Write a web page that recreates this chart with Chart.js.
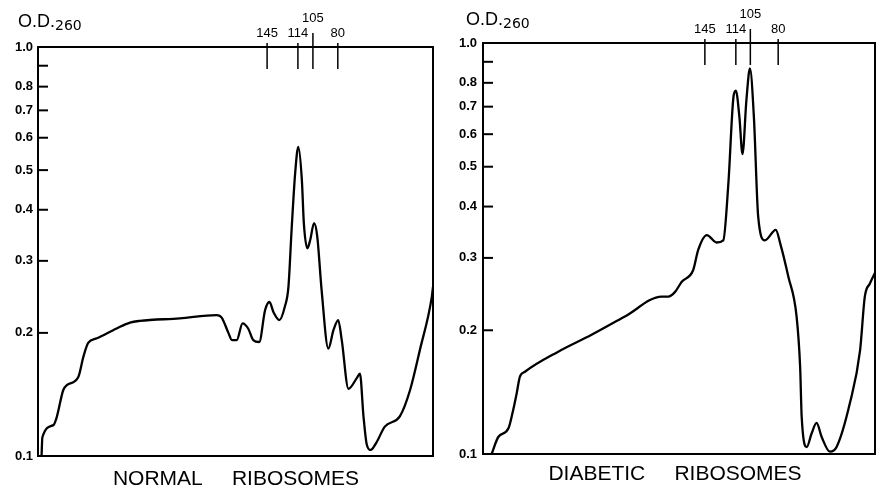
<!DOCTYPE html>
<html><head><meta charset="utf-8">
<script src="https://cdn.jsdelivr.net/npm/chart.js@4/dist/chart.umd.min.js"></script>
<style>
body{margin:0;background:#fff;width:877px;height:488px;overflow:hidden;position:relative}
canvas{position:absolute;top:0}
#c1{left:0}
#c2{left:440px}
</style></head><body>
<canvas id="c1" width="440" height="488"></canvas>
<canvas id="c2" width="437" height="488"></canvas>
<script>
// ---- data (x = position along gradient, % of panel width; y = O.D.260) ----
const normalX = [0.9,1.1,3.9,4.7,6.4,7.3,10.2,11.5,12.7,14.9,19.9,23.3,25.8,35.9,45.2,46.5,48.2,49.1,50.3,51.8,53.2,54.5,56.0,57.5,58.6,59.6,61.1,62.5,63.4,64.2,65.1,65.9,66.8,67.3,68.2,68.9,69.9,70.7,71.8,73.5,74.8,76.0,76.9,78.6,80.7,81.5,82.4,83.2,84.2,85.7,87.8,91.6,94.2,96.7,99.7,100];
const normalOD = [0.100,0.111,0.119,0.124,0.145,0.149,0.156,0.175,0.189,0.194,0.205,0.212,0.214,0.217,0.221,0.218,0.200,0.192,0.192,0.211,0.205,0.192,0.190,0.2275,0.238,0.225,0.215,0.232,0.259,0.357,0.491,0.570,0.473,0.371,0.322,0.337,0.371,0.344,0.2545,0.183,0.203,0.215,0.192,0.146,0.155,0.159,0.125,0.107,0.1035,0.108,0.118,0.125,0.145,0.182,0.245,0.259];
const diabeticX = [2.2,3.9,6.5,7.7,8.6,9.4,10.7,19.2,27.7,36.2,45.6,47.3,49.0,50.7,53.6,54.9,57.1,59.6,61.3,62.6,63.9,64.5,65.4,66.2,67.2,68.1,69.1,70.2,71.9,74.7,75.8,77.9,80.0,80.9,81.3,82.6,83.8,85.1,86.4,88.5,90.2,93.6,96.2,97.4,98.7,100];
const diabeticOD = [0.100,0.110,0.1155,0.128,0.1406,0.154,0.1585,0.1774,0.195,0.216,0.2415,0.2415,0.248,0.2625,0.280,0.314,0.341,0.327,0.331,0.456,0.740,0.766,0.662,0.537,0.727,0.867,0.662,0.378,0.331,0.351,0.326,0.270,0.216,0.163,0.123,0.104,0.112,0.119,0.110,0.1013,0.104,0.133,0.179,0.2415,0.260,0.276];
const yTickValues = [0.1,0.2,0.3,0.4,0.5,0.6,0.7,0.8,0.9,1.0];
const yTickLabels = ['0.1','0.2','0.3','0.4','0.5','0.6','0.7','0.8','','1.0'];
const markerLabels = ['145','114','105','80'];
const normalMarkerX = [58.0,65.8,69.6,75.9];
const diabeticMarkerX = [56.6,64.5,68.2,75.3];
const panelTitles = ['NORMAL     RIBOSOMES','DIABETIC     RIBOSOMES'];
const yAxisTitle = ['O.D.','260'];

const decor = {
  id:'decor',
  afterDraw(chart, args, o){
    const ctx = chart.ctx, a = chart.chartArea;
    const xs = chart.scales.x, ys = chart.scales.y;
    ctx.save();
    ctx.strokeStyle = '#000'; ctx.fillStyle = '#000';
    // frame
    ctx.lineWidth = 2;
    ctx.strokeRect(a.left, a.top, a.right - a.left, a.bottom - a.top);
    // inward y ticks
    ys.ticks.forEach(t => {
      const y = ys.getPixelForValue(t.value);
      ctx.beginPath(); ctx.moveTo(a.left, y); ctx.lineTo(a.left + 10, y); ctx.stroke();
    });
    // sedimentation markers
    ctx.lineWidth = 1.5;
    ctx.font = '13px "Liberation Sans", sans-serif';
    ctx.textAlign = 'center'; ctx.textBaseline = 'alphabetic';
    o.markerX.forEach((v, i) => {
      const x = xs.getPixelForValue(v);
      const raised = markerLabels[i] === '105';
      ctx.beginPath();
      ctx.moveTo(x, a.top - (raised ? 14 : 4));
      ctx.lineTo(x, a.top + 22);
      ctx.stroke();
      ctx.fillText(markerLabels[i], x, a.top - (raised ? 25 : 10));
    });
    // axis title
    ctx.textAlign = 'left';
    ctx.font = '18px "Liberation Sans", sans-serif';
    ctx.fillText(yAxisTitle[0], o.odX, o.odY);
    const w = ctx.measureText(yAxisTitle[0]).width;
    ctx.font = '14px "DejaVu Sans", sans-serif';
    ctx.fillText(yAxisTitle[1], o.odX + w, o.odY + 3);
    // panel title
    ctx.textAlign = 'center';
    ctx.font = '21px "Liberation Sans", sans-serif';
    ctx.fillText(o.title, o.titleX, o.titleY);
    ctx.restore();
  }
};

function makeChart(id, xs, ys, markers, title, pad, axisW, labelPad, odPos, titlePos){
  return new Chart(document.getElementById(id), {
    type:'line',
    data:{datasets:[{
      data: xs.map((x,i)=>({x, y: ys[i]})),
      borderColor:'#000', borderWidth:2.3, pointRadius:0,
      cubicInterpolationMode:'monotone', fill:false
    }]},
    options:{
      responsive:false, animation:false,
      layout:{padding:pad},
      plugins:{legend:{display:false}, tooltip:{enabled:false},
        decor:{markerX:markers, title, odX:odPos[0], odY:odPos[1], titleX:titlePos[0], titleY:titlePos[1]}},
      scales:{
        x:{type:'linear', min:0, max:100, display:false},
        y:{type:'logarithmic', min:0.1, max:1.0,
           grid:{display:false, drawTicks:false}, border:{display:false},
           afterBuildTicks: s => { s.ticks = yTickValues.map(v=>({value:v})); },
           afterFit: s => { s.width = axisW; },
           ticks:{autoSkip:false, padding:labelPad, color:'#000',
             font:{family:'"Liberation Sans", sans-serif', size:13, weight:'bold'},
             callback:(v, i) => yTickLabels[i]}
        }
      }
    },
    plugins:[decor]
  });
}

makeChart('c1', normalX, normalOD, normalMarkerX, panelTitles[0],
  {top:47, bottom:32, left:0, right:7}, 38, 5, [18, 27], [236, 485]);
makeChart('c2', diabeticX, diabeticOD, diabeticMarkerX, panelTitles[1],
  {top:43, bottom:34, left:0, right:2}, 43, 6, [26, 25], [235, 480]);
</script>
</body></html>
